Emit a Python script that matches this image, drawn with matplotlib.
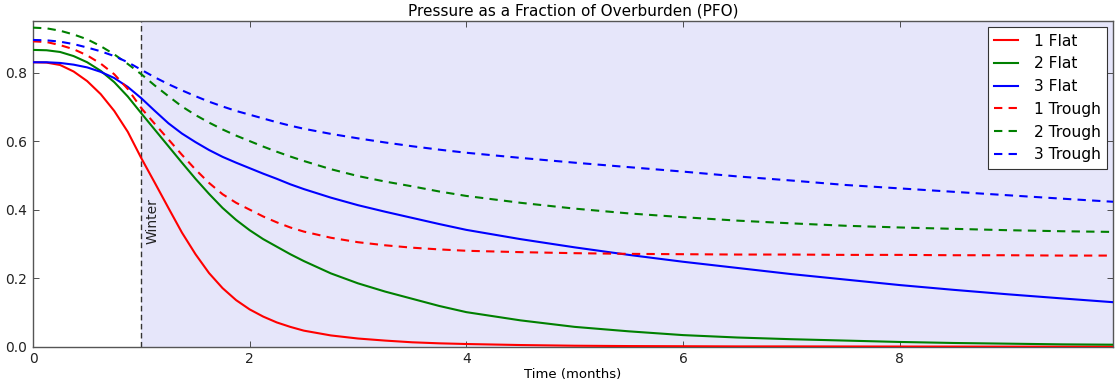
import matplotlib
matplotlib.use("Agg")
import matplotlib.pyplot as plt

# time in months
t = [0, 0.125, 0.25, 0.375, 0.5, 0.625, 0.75, 0.875, 1.0, 1.125, 1.25, 1.375,
     1.5, 1.625, 1.75, 1.875, 2.0, 2.125, 2.25, 2.375, 2.5, 2.75, 3.0, 3.25,
     3.5, 3.75, 4.0, 4.5, 5.0, 5.5, 6.0, 6.5, 7.0, 7.5, 8.0, 8.5, 9.0, 9.5, 9.97]

flat_1 = [0.830, 0.829, 0.822, 0.803, 0.775, 0.737, 0.688, 0.627, 0.550, 0.478,
          0.405, 0.333, 0.270, 0.215, 0.171, 0.136, 0.109, 0.088, 0.071, 0.058,
          0.047, 0.033, 0.024, 0.018, 0.013, 0.010, 0.008, 0.005, 0.003, 0.002,
          0.0015, 0.001, 0.001, 0.0008, 0.0006, 0.0005, 0.0004, 0.0003, 0.0003]
flat_2 = [0.866, 0.865, 0.860, 0.848, 0.830, 0.805, 0.772, 0.730, 0.681, 0.633,
          0.585, 0.537, 0.490, 0.446, 0.405, 0.370, 0.340, 0.314, 0.292, 0.270,
          0.250, 0.214, 0.185, 0.161, 0.140, 0.119, 0.101, 0.077, 0.058, 0.045,
          0.034, 0.027, 0.022, 0.018, 0.014, 0.011, 0.009, 0.007, 0.006]
flat_3 = [0.830, 0.830, 0.828, 0.823, 0.815, 0.802, 0.784, 0.758, 0.725, 0.688,
          0.652, 0.622, 0.597, 0.574, 0.554, 0.537, 0.521, 0.505, 0.490, 0.474,
          0.460, 0.435, 0.413, 0.394, 0.376, 0.358, 0.341, 0.314, 0.290, 0.268,
          0.248, 0.230, 0.212, 0.196, 0.180, 0.166, 0.153, 0.141, 0.130]
trough_1 = [0.891, 0.889, 0.880, 0.868, 0.850, 0.826, 0.795, 0.752, 0.696, 0.650,
            0.605, 0.560, 0.517, 0.478, 0.445, 0.420, 0.400, 0.380, 0.363, 0.348,
            0.336, 0.318, 0.305, 0.296, 0.289, 0.284, 0.280, 0.276, 0.273, 0.271,
            0.270, 0.269, 0.269, 0.268, 0.268, 0.267, 0.267, 0.266, 0.266]
trough_2 = [0.931, 0.929, 0.922, 0.911, 0.897, 0.877, 0.853, 0.825, 0.795, 0.762,
            0.731, 0.701, 0.676, 0.654, 0.634, 0.616, 0.600, 0.584, 0.569, 0.555,
            0.542, 0.518, 0.498, 0.482, 0.468, 0.453, 0.440, 0.420, 0.403, 0.389,
            0.378, 0.368, 0.360, 0.353, 0.348, 0.344, 0.340, 0.337, 0.335]
trough_3 = [0.895, 0.894, 0.890, 0.883, 0.873, 0.862, 0.848, 0.830, 0.808, 0.786,
            0.766, 0.748, 0.731, 0.715, 0.701, 0.688, 0.677, 0.666, 0.655, 0.645,
            0.636, 0.621, 0.608, 0.596, 0.585, 0.575, 0.566, 0.551, 0.537, 0.524,
            0.511, 0.497, 0.485, 0.472, 0.462, 0.452, 0.442, 0.432, 0.423]

labels = ["1 Flat", "2 Flat", "3 Flat", "1 Trough", "2 Trough", "3 Trough"]
winter_start = 1.0

fig = plt.figure(figsize=(11.15, 3.84), dpi=100)
ax = fig.add_axes([0.0296, 0.097, 0.9686, 0.848])

ax.axvspan(winter_start, t[-1], color="#e6e6fa", zorder=0, lw=0)
ax.axvline(winter_start, color="#333333", ls=(0, (4, 2.5)), lw=1.0, zorder=1)
ax.text(winter_start + 0.04, 0.3, "Winter", rotation=90, ha="left", va="bottom",
        fontsize=10, color="#222222")

series = [flat_1, flat_2, flat_3, trough_1, trough_2, trough_3]
colors = ["#ff0000", "#008000", "#0000ff", "#ff0000", "#008000", "#0000ff"]
for i, (s, c, lab) in enumerate(zip(series, colors, labels)):
    if i < 3:
        ax.plot(t, s, color=c, lw=1.5, label=lab, zorder=3)
    else:
        ax.plot(t, s, color=c, lw=1.5, ls=(0, (4, 3)), label=lab, zorder=3)

ax.set_xlim(0, t[-1])
ax.set_ylim(0, 0.95)
ax.set_xticks([0, 2, 4, 6, 8])
ax.set_yticks([0.0, 0.2, 0.4, 0.6, 0.8])
ax.set_yticklabels(["0.0", "0.2", "0.4", "0.6", "0.8"])
ax.tick_params(direction="in", top=True, right=True, length=4, width=0.6,
               labelsize=10, colors="#333333", labelcolor="#222222", pad=4)
for sp in ax.spines.values():
    sp.set_color("#555555")
    sp.set_linewidth(1.0)

ax.set_xlabel("Time (months)", fontsize=9.5, labelpad=1)
ax.set_title("Pressure as a Fraction of Overburden (PFO)", fontsize=11, pad=4)

leg = ax.legend(loc="upper right", fontsize=11.2, frameon=True, fancybox=False,
                borderaxespad=0.4, labelspacing=0.5, handlelength=1.55,
                handletextpad=1.0, borderpad=0.4)
leg.get_frame().set_edgecolor("#333333")
leg.get_frame().set_linewidth(0.8)
leg.get_frame().set_facecolor("white")
leg.get_frame().set_alpha(1.0)

fig.savefig("out.png", dpi=100, facecolor="white")
